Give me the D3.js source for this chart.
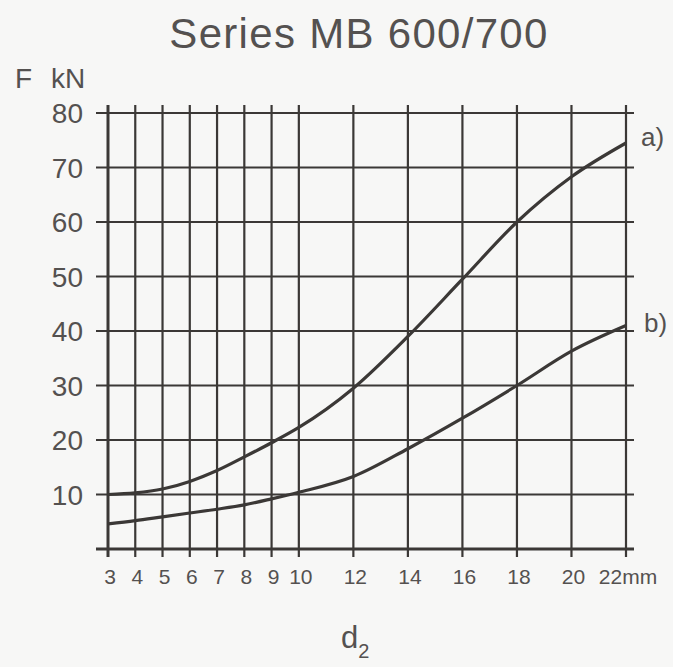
<!DOCTYPE html>
<html>
<head>
<meta charset="utf-8">
<script src="https://cdn.jsdelivr.net/npm/d3@7"></script>
<style>
  body { margin: 0; background: #f7f7f6; }
  svg { display: block; }
  text { font-family: "Liberation Sans", Arial, sans-serif; fill: #545150; }
</style>
</head>
<body>
<div id="chart"></div>
<script>
// diameter d2 in mm
const d2 = [3, 4, 5, 6, 7, 8, 9, 10, 12, 14, 16, 18, 20, 22];
// force F in kN, curve a) and b)
const forceA = [10, 10.3, 11, 12.4, 14.4, 16.9, 19.5, 22.3, 29.5, 39, 49.5, 60, 68.3, 74.5];
const forceB = [4.6, 5.2, 5.9, 6.6, 7.3, 8.1, 9.2, 10.4, 13.3, 18.4, 24, 30, 36.3, 41];
const xTicks = [3, 4, 5, 6, 7, 8, 9, 10, 12, 14, 16, 18, 20, 22];
const yTicks = [10, 20, 30, 40, 50, 60, 70, 80];

const width = 673;
const height = 667;
const ink = '#3b3836';

const svg = d3.select('#chart').append('svg')
  .attr('width', width)
  .attr('height', height);

const x = d3.scaleLinear().domain([3, 22]).range([108, 626]);
const y = d3.scaleLinear().domain([0, 80]).range([549, 113]);

// grid - vertical
svg.append('g')
  .selectAll('line')
  .data(xTicks)
  .enter().append('line')
  .attr('x1', d => x(d)).attr('x2', d => x(d))
  .attr('y1', y(80) - 8).attr('y2', y(0) + 8)
  .attr('stroke', ink)
  .attr('stroke-width', d => d === 3 ? 3 : 2.2);

// grid - horizontal
svg.append('g')
  .selectAll('line')
  .data([0].concat(yTicks))
  .enter().append('line')
  .attr('x1', x(3) - 12).attr('x2', x(22) + 8)
  .attr('y1', d => y(d)).attr('y2', d => y(d))
  .attr('stroke', ink)
  .attr('stroke-width', d => d === 0 ? 3 : 2.2);

// tick labels
svg.append('g')
  .selectAll('text')
  .data(yTicks)
  .enter().append('text')
  .attr('x', 83)
  .attr('y', d => y(d) + 10)
  .attr('text-anchor', 'end')
  .attr('font-size', '28px')
  .text(d => d);

svg.append('g')
  .selectAll('text')
  .data(xTicks)
  .enter().append('text')
  .attr('x', d => x(d) + 2)
  .attr('y', 584)
  .attr('text-anchor', 'middle')
  .attr('font-size', '21px')
  .text(d => d === 22 ? '22mm' : d);

// curves
const line = d3.line()
  .x(d => x(d[0]))
  .y(d => y(d[1]))
  .curve(d3.curveMonotoneX);

[forceA, forceB].forEach(vals => {
  svg.append('path')
    .datum(d2.map((d, i) => [d, vals[i]]))
    .attr('d', line)
    .attr('fill', 'none')
    .attr('stroke', ink)
    .attr('stroke-width', 3.2);
});

svg.append('text')
  .attr('x', 641).attr('y', y(74.5) + 3)
  .attr('font-size', '26px')
  .text('a)');

svg.append('text')
  .attr('x', 644).attr('y', y(41) + 6)
  .attr('font-size', '26px')
  .text('b)');

// titles
svg.append('text')
  .attr('x', 359).attr('y', 48)
  .attr('text-anchor', 'middle')
  .attr('font-size', '42px')
  .attr('letter-spacing', '1.3px')
  .text('Series MB 600/700');

svg.append('text')
  .attr('x', 15).attr('y', 88)
  .attr('font-size', '28px')
  .text('F');

svg.append('text')
  .attr('x', 51).attr('y', 88)
  .attr('font-size', '28px')
  .text('kN');

const d2Label = svg.append('text')
  .attr('x', 341).attr('y', 648)
  .attr('font-size', '31px');
d2Label.append('tspan').text('d');
d2Label.append('tspan').attr('font-size', '20px').attr('dy', 10).text('2');
</script>
</body>
</html>
